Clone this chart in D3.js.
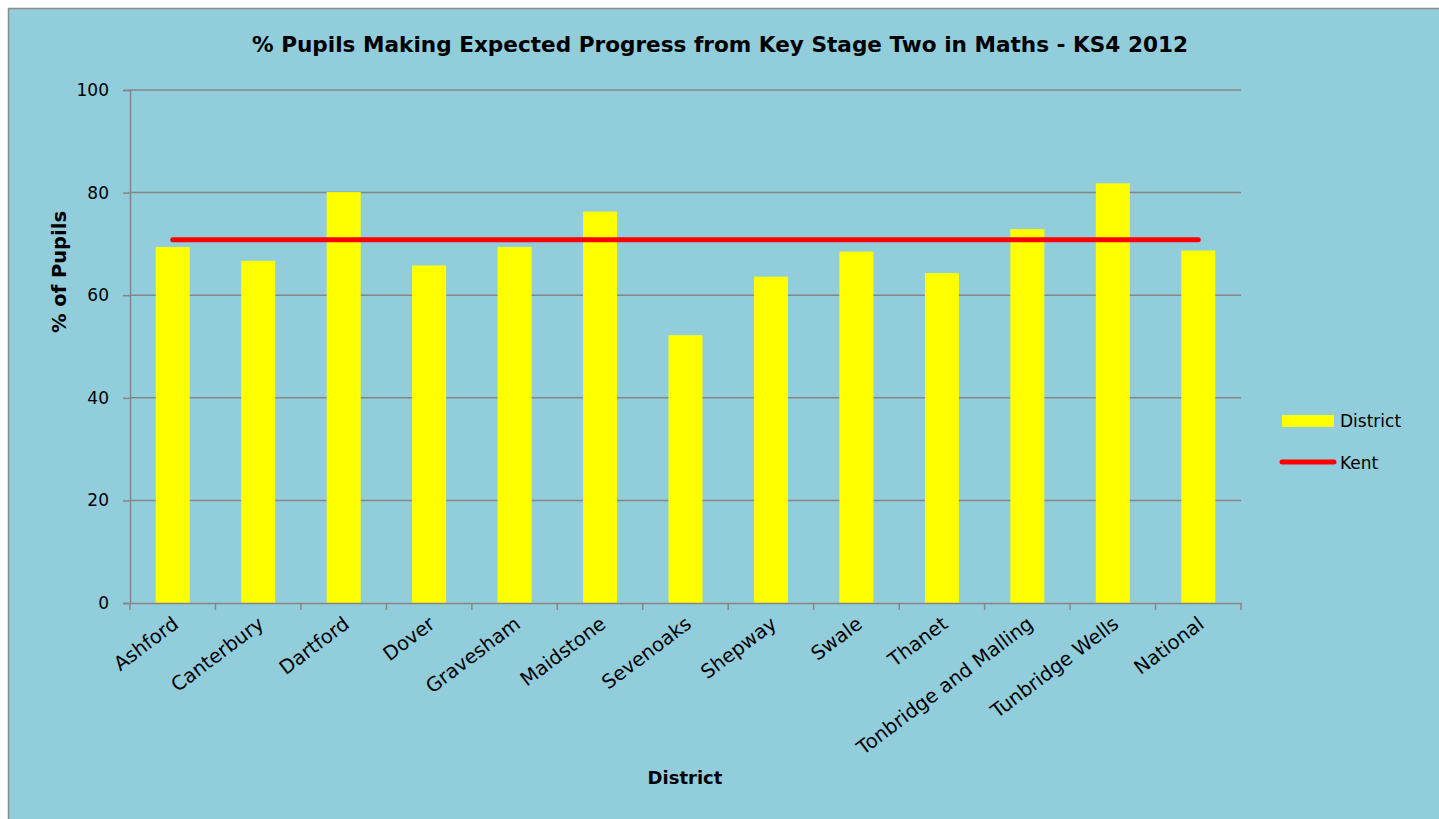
<!DOCTYPE html>
<html><head><meta charset="utf-8">
<script src="https://cdn.jsdelivr.net/npm/d3@7"></script>
<style>
html,body{margin:0;padding:0;background:#fff;}
svg{display:block;}
text{font-family:"DejaVu Sans",Verdana,sans-serif;fill:#000;}
</style></head>
<body>
<svg id="chart" width="1439" height="819"></svg>
<script>
const categories = ["Ashford","Canterbury","Dartford","Dover","Gravesham","Maidstone","Sevenoaks","Shepway","Swale","Thanet","Tonbridge and Malling","Tunbridge Wells","National"];
const districtValues = [69.4,66.7,80.1,65.8,69.4,76.3,52.2,63.6,68.5,64.3,72.9,81.8,68.7];
const kentValue = 70.8;
const yTicks = [0,20,40,60,80,100];
const titleText = "% Pupils Making Expected Progress from Key Stage Two in Maths - KS4 2012";

const svg = d3.select("#chart");
svg.append("rect").attr("x",8.5).attr("y",8.5).attr("width",1440).attr("height",820)
  .attr("fill","#92CDDC").attr("stroke","#8c8c8c").attr("stroke-width",1.5);

const m = {left:130,right:1241,top:90,bottom:603};
const xc = d3.scaleBand().domain(categories).range([m.left,m.right]);
const y = d3.scaleLinear().domain([0,100]).range([m.bottom,m.top]);

// gridlines
svg.append("g").selectAll("line").data(yTicks.filter(d=>d>0)).join("line")
  .attr("x1",m.left).attr("x2",m.right).attr("y1",d=>y(d)).attr("y2",d=>y(d))
  .attr("stroke","#868686").attr("stroke-width",1.5);

// bars
svg.append("g").selectAll("rect").data(districtValues).join("rect")
  .attr("x",(d,i)=>xc(categories[i])+xc.bandwidth()/2-17).attr("width",34)
  .attr("y",d=>y(d)).attr("height",d=>y(0)-y(d)).attr("fill","#FFFF00");

// axes
const yAxis = svg.append("g").attr("transform",`translate(${m.left},0)`)
  .call(d3.axisLeft(y).tickValues(yTicks).tickSize(7).tickPadding(14));
const xAxis = svg.append("g").attr("transform",`translate(0,${m.bottom})`)
  .call(d3.axisBottom(xc).tickSize(0).tickFormat(""));
[yAxis,xAxis].forEach(g=>{g.select(".domain").attr("stroke","#868686").attr("stroke-width",1.5);
  g.selectAll(".tick line").attr("stroke","#868686").attr("stroke-width",1.5);});
yAxis.selectAll("text").attr("font-size",17).attr("font-family","DejaVu Sans").attr("fill","#000");
// x tick marks at category boundaries
svg.append("g").selectAll("line").data(d3.range(categories.length+1)).join("line")
  .attr("x1",i=>m.left+i*xc.step()).attr("x2",i=>m.left+i*xc.step())
  .attr("y1",m.bottom).attr("y2",m.bottom+7).attr("stroke","#868686").attr("stroke-width",1.5);

// x labels
svg.append("g").selectAll("text").data(categories).join("text")
  .attr("transform",d=>`translate(${xc(d)+xc.bandwidth()/2+3},${m.bottom+18}) rotate(-37)`)
  .attr("text-anchor","end").attr("font-size",19.5).attr("dy","0.35em").text(d=>d);

// Kent line
const line = d3.line().x(d=>xc(d)+xc.bandwidth()/2).y(()=>y(kentValue));
svg.append("path").datum(categories).attr("d",line).attr("fill","none")
  .attr("stroke","#FF0000").attr("stroke-width",5).attr("stroke-linecap","round");

// title
svg.append("text").attr("x",720).attr("y",52).attr("text-anchor","middle")
  .attr("font-weight","bold").attr("font-size",21.6).text(titleText);
// axis titles
svg.append("text").attr("transform","translate(66,272) rotate(-90)").attr("text-anchor","middle")
  .attr("font-weight","bold").attr("font-size",19.5).text("% of Pupils");
svg.append("text").attr("x",685).attr("y",784).attr("text-anchor","middle")
  .attr("font-weight","bold").attr("font-size",18).text("District");

// legend
const lg = svg.append("g");
lg.append("rect").attr("x",1282).attr("y",415).attr("width",52).attr("height",12).attr("fill","#FFFF00");
lg.append("text").attr("x",1340).attr("y",427).attr("font-size",17).text("District");
lg.append("line").attr("x1",1282).attr("x2",1334).attr("y1",462).attr("y2",462)
  .attr("stroke","#FF0000").attr("stroke-width",5).attr("stroke-linecap","round");
lg.append("text").attr("x",1340).attr("y",469).attr("font-size",17).text("Kent");
</script>
</body></html>
